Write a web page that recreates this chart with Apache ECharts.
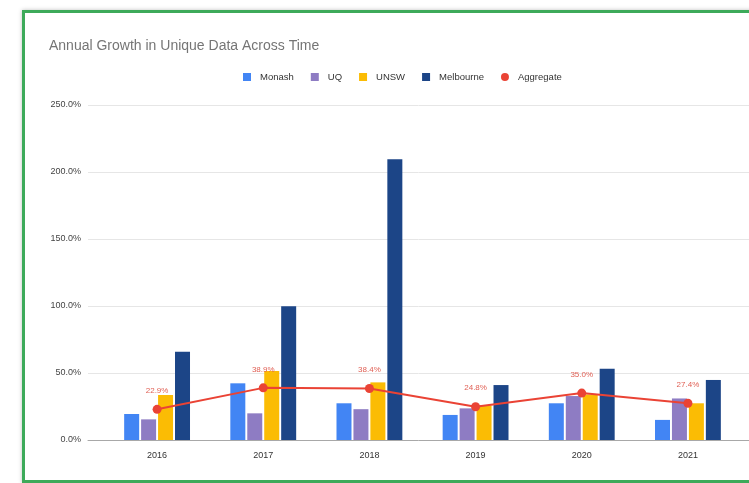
<!DOCTYPE html>
<html>
<head>
<meta charset="utf-8">
<script src="https://cdn.jsdelivr.net/npm/echarts@6/dist/echarts.min.js"></script>
<style>
  html, body { margin: 0; padding: 0; background: #fff; overflow: hidden; }
  #chart { width: 749px; height: 483px; }
  /* green frame around the sheet chart, cut off on the right */
  #frame {
    position: absolute; left: 22px; top: 10px; width: 800px; height: 467px;
    border: 3px solid #3daa5a; box-shadow: 0 0 4px rgba(0,0,0,0.25);
    pointer-events: none;
  }
</style>
</head>
<body>
<div id="chart"></div>
<div id="frame"></div>
<script>
// 数据
const years = ['2016', '2017', '2018', '2019', '2020', '2021']
const monash = [19.4, 42.3, 27.4, 18.7, 27.4, 15.0]
const uq = [15.4, 19.9, 23.0, 23.6, 32.8, 31.0]
const unsw = [33.6, 51.5, 43.0, 25.8, 34.0, 27.4]
const melbourne = [65.8, 99.8, 209.6, 41.0, 53.2, 44.8]
const aggregate = [22.9, 38.9, 38.4, 24.8, 35.0, 27.4]
const yTicks = { min: 0, max: 250, interval: 50 }

const chart = echarts.init(document.getElementById('chart'), null, { renderer: 'canvas' })

const barStyle = (name, color, data) => ({
  name, type: 'bar', data,
  xAxisIndex: 1, yAxisIndex: 1,
  barWidth: 15, barGap: '13%',
  itemStyle: { color }
})

const option = {
  animation: false,
  backgroundColor: '#fff',
  title: {
    text: 'Annual Growth in Unique Data Across Time',
    left: 49, top: 39, padding: 0,
    textStyle: { color: '#757575', fontWeight: 'normal', fontSize: 14, fontFamily: 'Liberation Sans, Arial' }
  },
  legend: {
    left: 243, top: 72, padding: 0,
    itemWidth: 8, itemHeight: 8, itemGap: 17,
    textStyle: { fontSize: 9.5, color: '#333', fontFamily: 'Liberation Sans, Arial', padding: [0, 0, 0, 4] },
    data: [
      { name: 'Monash', icon: 'rect' },
      { name: 'UQ', icon: 'rect' },
      { name: 'UNSW', icon: 'rect' },
      { name: 'Melbourne', icon: 'rect' },
      { name: 'Aggregate', icon: 'circle' }
    ]
  },
  grid: [
    { left: 88, right: 0, top: 105, bottom: 43 },
    { left: 104, right: 8, top: 105, bottom: 43 }
  ],
  xAxis: [
    {
      type: 'value', gridIndex: 0, min: 0, max: 1,
      axisLine: { show: true, lineStyle: { color: '#a8a8a8', width: 1 } },
      axisTick: { show: false }, axisLabel: { show: false }, splitLine: { show: false }
    },
    {
      type: 'category', gridIndex: 1, data: years,
      axisLine: { show: false }, axisTick: { show: false },
      axisLabel: { margin: 11, fontSize: 9, color: '#333', fontFamily: 'Liberation Sans, Arial' }
    }
  ],
  yAxis: [
    {
      type: 'value', gridIndex: 0, ...yTicks,
      axisLine: { show: false }, axisTick: { show: false },
      axisLabel: {
        fontSize: 9, color: '#444', margin: 7, fontFamily: 'Liberation Sans, Arial',
        formatter: v => v.toFixed(1) + '%'
      },
      splitLine: { lineStyle: { color: '#e6e6e6', width: 1 } }
    },
    { type: 'value', gridIndex: 1, ...yTicks, show: false, splitLine: { show: false } }
  ],
  series: [
    barStyle('Monash', '#4285f4', monash),
    barStyle('UQ', '#8e7cc3', uq),
    barStyle('UNSW', '#fbbc04', unsw),
    barStyle('Melbourne', '#1c4587', melbourne),
    {
      name: 'Aggregate', type: 'line', data: aggregate,
      xAxisIndex: 1, yAxisIndex: 1,
      symbol: 'circle', symbolSize: 9,
      lineStyle: { color: '#ea4335', width: 2 },
      itemStyle: { color: '#ea4335' },
      label: {
        show: true, position: 'top', distance: 10,
        color: '#e06055', fontSize: 8, fontFamily: 'Liberation Sans, Arial',
        formatter: p => p.value.toFixed(1) + '%'
      },
      z: 5
    }
  ]
}

chart.setOption(option)
</script>
</body>
</html>
